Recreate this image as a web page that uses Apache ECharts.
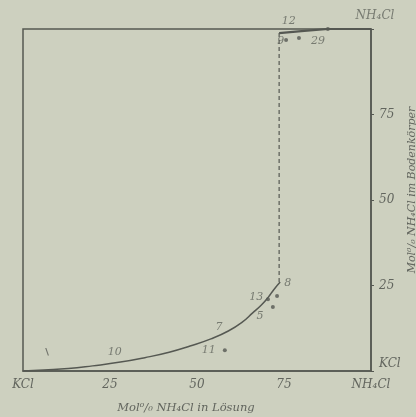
<!DOCTYPE html>
<html>
<head>
<meta charset="utf-8">
<script src="https://cdn.jsdelivr.net/npm/echarts@6/dist/echarts.min.js"></script>
<style>
  html, body { margin: 0; padding: 0; background: #cdd0bf; }
  #chart { width: 416px; height: 417px; }
</style>
</head>
<body>
<div id="chart"></div>
<script>
// Mol-% NH4Cl in solution (x) vs. in the solid phase (y), KCl–NH4Cl system

// lower branch: KCl-rich mixed crystals
var lowerX = [0, 6, 13, 20, 28, 35, 42, 48, 54, 59, 63, 66, 68.5, 70.5, 72, 73.9];
var lowerY = [0, 0.3, 0.7, 1.5, 2.6, 3.9, 5.5, 7.3, 9.4, 11.7, 14.3, 17.0, 19.3, 21.6, 23.7, 26.0];

// miscibility gap (dashed)
var gapX = [73.6, 73.6];
var gapY = [26.0, 98.8];

// upper branch: NH4Cl-rich mixed crystals
var upperX = [73.6, 80, 87.6, 100];
var upperY = [98.8, 99.4, 100, 100];

// measured points
var pointX = [75.6, 79.3, 87.6, 58.0, 73.0, 71.8, 70.4];
var pointY = [96.8, 97.4, 100, 6.1, 21.9, 18.7, 21.0];

// experiment numbers
var tagText = ['12', '9', '29', '10', '11', '7', '5', '13', '8', '\\'];
var tagX = [76.4, 74.1, 84.8, 26.4, 53.4, 56.3, 68.1, 67.0, 76.1, 6.9];
var tagY = [102.3, 96.5, 96.5, 5.6, 6.1, 12.9, 16.1, 21.6, 25.7, 5.3];

// axis ticks
var xTicks = [0, 25, 50, 75, 100];
var xTickLabels = ['KCl', '25', '50', '75', 'NH₄Cl'];
var yTickLabels = {0: 'KCl', 25: '25', 50: '50', 75: '75'};
// pure NH4Cl corner of the solid-phase axis
var topCornerText = 'NH₄Cl';
var topCorner = [100, 100];

function zip(a, b) { return a.map(function (v, i) { return [v, b[i]]; }); }

var ink = '#555852';
var textInk = '#62655e';
var font = 'DejaVu Serif';

var chart = echarts.init(document.getElementById('chart'));
chart.setOption({
  backgroundColor: '#cdd0bf',
  animation: false,
  grid: {
    left: 23, right: 45, top: 29, bottom: 46,
    containLabel: false, outerBoundsMode: 'none',
    show: true, borderColor: ink, borderWidth: 1.5, backgroundColor: 'transparent'
  },
  xAxis: {
    type: 'value', min: 0, max: 100, interval: 25,
    name: 'Mol⁰/₀ NH₄Cl in Lösung',
    nameLocation: 'middle', nameGap: 31, nameMoveOverlap: false,
    nameTextStyle: {
      fontFamily: font, fontStyle: 'italic', fontSize: 11.5, color: textInk,
      padding: [0, 22, 0, 0]
    },
    axisLine: { onZero: false, lineStyle: { color: ink, width: 1.5 } },
    axisTick: { show: false },
    splitLine: { show: false },
    axisLabel: {
      margin: 8,
      fontFamily: font, fontStyle: 'italic', fontSize: 12, color: textInk,
      formatter: function (v) { return xTickLabels[xTicks.indexOf(v)]; }
    }
  },
  yAxis: {
    type: 'value', min: 0, max: 100, interval: 25, position: 'right',
    name: 'Mol⁰/₀ NH₄Cl im Bodenkörper',
    nameLocation: 'middle', nameGap: 36, nameRotate: 90, nameMoveOverlap: false,
    nameTextStyle: {
      fontFamily: font, fontStyle: 'italic', fontSize: 11, color: textInk,
      padding: [0, 0, 0, 20]
    },
    axisLine: { show: true, onZero: false, lineStyle: { color: ink, width: 1.5 } },
    axisTick: { show: true, length: 3, inside: false, lineStyle: { color: ink } },
    splitLine: { show: false },
    axisLabel: {
      margin: 8,
      fontFamily: font, fontStyle: 'italic', fontSize: 12, color: textInk,
      formatter: function (v) {
        if (v === 0) return '{lo|' + yTickLabels[v] + '}';
        return yTickLabels[v] || '';
      },
      rich: {
        lo: { fontFamily: font, fontStyle: 'italic', fontSize: 12, color: textInk, padding: [0, 0, 14, 0] }
      }
    }
  },
  series: [
    {
      type: 'line', data: zip(lowerX, lowerY), smooth: true, symbol: 'none',
      lineStyle: { color: ink, width: 1.5 }
    },
    {
      type: 'line', data: zip(gapX, gapY), symbol: 'none',
      lineStyle: { color: ink, width: 1.2, type: [4, 3] }
    },
    {
      type: 'line', data: zip(upperX, upperY), symbol: 'none',
      lineStyle: { color: ink, width: 2.2 }
    },
    {
      type: 'scatter', data: zip(pointX, pointY), symbolSize: 4,
      itemStyle: { color: ink }
    },
    {
      type: 'scatter', clip: false, data: zip(tagX, tagY).map(function (p, i) {
        return {
          value: p, name: tagText[i],
          label: tagText[i] === '\\' ? { fontWeight: 'bold', fontSize: 10, fontStyle: 'normal', color: ink } : undefined
        };
      }),
      symbolSize: 0, silent: true,
      labelLayout: { hideOverlap: false },
      label: {
        show: true, position: 'inside',
        formatter: function (p) { return p.name; },
        fontFamily: font, fontStyle: 'italic', fontSize: 11, color: textInk
      }
    },
    {
      type: 'scatter', clip: false, silent: true, symbolSize: 0,
      data: [{ value: topCorner, name: topCornerText }],
      labelLayout: { hideOverlap: false, dx: 4 },
      label: {
        show: true, position: 'top', distance: 7,
        formatter: function (p) { return p.name; },
        fontFamily: font, fontStyle: 'italic', fontSize: 12, color: textInk
      }
    }
  ]
});
</script>
</body>
</html>
